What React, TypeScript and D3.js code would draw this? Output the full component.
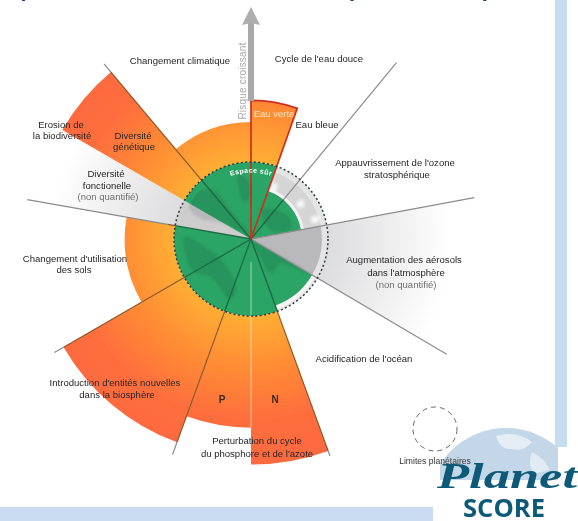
import React from 'react';
import * as d3 from 'd3';

const WIDTH = 578;
const HEIGHT = 521;
const CENTER = [251, 239];

// Sectors beyond the boundary: angles in degrees clockwise from north, value 1 = planetary boundary
const overshootNames = ['Changement climatique', 'Eau verte', 'Diversité génétique', 'Utilisation des sols', 'Entités nouvelles', 'P', 'N'];
const overshootFrom = [320, 0, 300, 240, 200, 180, 160];
const overshootTo = [360, 19.5, 320, 280, 240, 200, 180];
const overshootValue = [1.52, 1.8, 2.83, 1.64, 2.81, 2.45, 2.93];

// Sectors still inside the safe space
const safeNames = ['Climat', 'Eau verte', 'Eau bleue et ozone', 'Acidification', 'Phosphore et azote', 'Entités', 'Sols', 'Génétique'];
const safeFrom = [320, 0, 19.5, 120.5, 160, 200, 240, 300];
const safeTo = [360, 19.5, 79.5, 160, 200, 240, 280, 320];
const safeValue = [1, 1, 0.66, 0.92, 1, 1, 1, 1];

// Not quantified sectors, fading out
const unknownFrom = [280, 79.5];
const unknownTo = [300, 120.5];

// Spokes: angle, end of the dark part, end of the brown part, full length
const spokeAngle = [320, 39.5, 79.5, 120.5, 160, 200, 240, 280];
const spokeGreen = [1, 0.66, 0, 0, 1, 1, 1, 1];
const spokeBrown = [2.83, 0, 0, 0, 2.93, 2.81, 2.81, 1.1];
const spokeEnd = [2.97, 2.97, 2.95, 2.95, 3.0, 2.98, 2.95, 2.95];

// Map blobs on the globe: [angle, radius]
const darkLand = [
  [[302, 0.97], [322, 0.82], [325, 0.4], [355, 0.05], [300, 0.4], [292, 0.75]],
  [[270, 0.88], [243, 0.87], [226, 0.72], [200, 0.83], [198, 0.62], [236, 0.47], [268, 0.71]],
  [[135, 0.05], [120, 0.87], [124, 0.7], [130, 0.5], [150, 0.52], [153, 0.29]],
  [[348, 0.85], [358, 0.75], [357, 0.5], [346, 0.55]],
  [[18, 0.41], [54, 0.56], [76, 0.53], [68, 0.28]],
];
const paleLand = [
  [[21, 0.78], [26, 0.78], [28, 0.66], [22, 0.64]],
  [[52, 0.84], [58, 0.82], [57, 0.74], [52, 0.75]],
  [[71, 0.93], [76, 0.9], [75, 0.82], [70, 0.83]],
];

const labelLines = [
  ['Changement climatique', 180, 64],
  ["Cycle de l'eau douce", 319, 62],
  ['Eau bleue', 317, 128],
  ["Appauvrissement de l'ozone", 395, 166],
  ['stratosphérique', 397, 178],
  ['Augmentation des aérosols', 404, 263],
  ["dans l'atmosphère", 406, 276],
  ["Acidification de l'océan", 364, 362],
  ['Perturbation du cycle', 257, 444],
  ["du phosphore et de l'azote", 257, 457],
  ["Introduction d'entités nouvelles", 115, 386],
  ['dans la biosphère', 117, 398],
  ["Changement d'utilisation", 75, 262],
  ['des sols', 74, 273],
  ['Diversité', 106, 177],
  ['fonctionelle', 107, 189],
  ['Erosion de', 61, 128],
  ['la biodiversité', 62, 139],
  ['Diversité', 133, 139],
  ['génétique', 134, 150],
];
const greyLines = [
  ['(non quantifié)', 108, 200],
  ['(non quantifié)', 406, 288],
];
const titleScraps = [['(', 18], ['p', 349], [')', 483]];

const rad = d3.scaleLinear().domain([0, 360]).range([0, 2 * Math.PI]);
const radius = d3.scaleLinear().domain([0, 1]).range([0, 77]);
const arc = d3.arc();
const blob = d3.lineRadial()
  .angle(d => rad(d[0]))
  .radius(d => radius(d[1]))
  .curve(d3.curveCardinalClosed);

const sector = (from, to, inner, outer) =>
  arc({ startAngle: rad(from), endAngle: rad(to), innerRadius: radius(inner), outerRadius: radius(outer) });

const polar = (angle, value) => {
  const a = rad(angle);
  return [Math.sin(a) * radius(value), -Math.cos(a) * radius(value)];
};

const Spoke = ({ angle, from, to, color, width, opacity = 1 }) => {
  if (to <= from) return null;
  const [x1, y1] = polar(angle, from);
  const [x2, y2] = polar(angle, to);
  return <line x1={x1} y1={y1} x2={x2} y2={y2} stroke={color} strokeWidth={width} opacity={opacity} />;
};

export default function App() {
  const font = '"Liberation Sans", Arial, sans-serif';
  const labelPath = d3.path();
  labelPath.arc(0, 0, radius(0.86), rad(-30) - Math.PI / 2, rad(30) - Math.PI / 2);

  return (
    <svg width={WIDTH} height={HEIGHT} style={{ position: 'absolute', left: 0, top: 0, background: '#fff' }} fontFamily={font}>
      <defs>
        <filter id="soft" x="-5%" y="-5%" width="110%" height="110%">
          <feGaussianBlur stdDeviation="0.35" />
        </filter>
        <filter id="landBlur" x="-20%" y="-20%" width="140%" height="140%">
          <feGaussianBlur stdDeviation="1.6" />
        </filter>
        <radialGradient id="heat" gradientUnits="userSpaceOnUse" cx="0" cy="0" r="226">
          <stop offset="0.34" stopColor="#ffae36" />
          <stop offset="0.55" stopColor="#ff8f34" />
          <stop offset="0.8" stopColor="#fe6e3d" />
          <stop offset="1" stopColor="#fd6a40" />
        </radialGradient>
        <radialGradient id="fade" gradientUnits="userSpaceOnUse" cx="0" cy="0" r="200">
          <stop offset="0.38" stopColor="#dcdcde" />
          <stop offset="0.7" stopColor="#eeeeef" />
          <stop offset="1" stopColor="#ffffff" />
        </radialGradient>
        <clipPath id="globeClip"><circle r={radius(0.92)} /></clipPath>
        <clipPath id="logoClip"><rect x={440} y={420} width={118} height={60} /></clipPath>
        <path id="safeArc" d={labelPath.toString()} />
      </defs>

      <g filter="url(#soft)">
        {titleScraps.map(([t, x]) => (
          <text key={x} x={x} y={-4} fontSize={22} fontWeight="bold" fill="#1c3f78">{t}</text>
        ))}

        <rect x={555} y={0} width={12} height={447} fill="#c6dcf1" />
        <rect x={0} y={507} width={433} height={14} fill="#c9dcf2" />

        <g transform={`translate(${CENTER[0]},${CENTER[1]})`}>
          {unknownFrom.map((from, i) => (
            <path key={from} d={sector(from, unknownTo[i], 0, 2.9)} fill="url(#fade)" />
          ))}

          <circle r={radius(1)} fill="#e4e4e4" />
          <circle r={radius(0.92)} fill="#d5d5d6" />
          <path d={sector(79.5, 120.5, 0, 0.92)} fill="#b9b9bb" />
          <path d={sector(280, 300, 0, 1)} fill="#cdcdce" />
          <g filter="url(#landBlur)">
            {paleLand.map((d, i) => <path key={i} d={blob(d)} fill="#f6f6f6" />)}
          </g>

          <path d={sector(19.5, 79.5, 0.66, 0.7)} fill="#f4f4f4" />
          <path d={sector(120.5, 160, 0.92, 0.97)} fill="#f6f6f6" />
          {safeNames.map((name, i) => (
            <path key={name} d={sector(safeFrom[i], safeTo[i], 0, safeValue[i])} fill="#2ca565" />
          ))}
          <g clipPath="url(#globeClip)">
            <g filter="url(#landBlur)">
              {darkLand.map((d, i) => <path key={i} d={blob(d)} fill="#000" opacity={0.1} />)}
            </g>
          </g>

          {overshootNames.map((name, i) => (
            <path key={name} d={sector(overshootFrom[i], overshootTo[i], 1, overshootValue[i])} fill="url(#heat)" />
          ))}

          <Spoke angle={180} from={0.3} to={2.45} color="#ffffff" width={1} opacity={0.55} />
          {spokeAngle.map((angle, i) => (
            <g key={angle}>
              <Spoke angle={angle} from={Math.max(spokeGreen[i], spokeBrown[i], 0)} to={spokeEnd[i]} color="#8b8b8b" width={1.2} />
              <Spoke angle={angle} from={1} to={spokeBrown[i]} color="#8a5a2a" width={1.2} />
              <Spoke angle={angle} from={0} to={spokeGreen[i]} color="#1d6b45" width={1.4} />
            </g>
          ))}

          <path d={sector(0, 19.5, 0, overshootValue[1])} fill="none" stroke="#cf2d1f" strokeWidth={1.7} />
          <circle r={radius(1)} fill="none" stroke="#2f3a3a" strokeWidth={1.5} strokeDasharray="2 2.4" />

          <text fontSize={7} fontWeight="bold" fill="#fff" letterSpacing={0.4}>
            <textPath href="#safeArc" startOffset="50%" textAnchor="middle">Espace sûr</textPath>
          </text>
        </g>

        {/* risk arrow */}
        <rect x={248} y={22} width={6} height={79} fill="#a9a9a9" />
        <path d={d3.line()([[251, 7], [260, 25], [251, 23], [242, 25]]) + 'Z'} fill="#adadad" />
        <text transform="translate(246,81) rotate(-90)" textAnchor="middle" fontSize={10} fill="#a8a8a8" letterSpacing={0.2}>Risque croissant</text>

        {labelLines.map(([t, x, y], i) => (
          <text key={i} x={x} y={y} textAnchor="middle" fontSize={9.55} fill="#262626">{t}</text>
        ))}
        {greyLines.map(([t, x, y], i) => (
          <text key={i} x={x} y={y} textAnchor="middle" fontSize={9.55} fill="#6f6f6f">{t}</text>
        ))}
        <text x={274} y={117} textAnchor="middle" fontSize={9.5} fill="#ffe3c4">Eau verte</text>
        <text x={222} y={403} textAnchor="middle" fontSize={10} fontWeight="bold" fill="#3a2a20">P</text>
        <text x={275} y={403} textAnchor="middle" fontSize={10} fontWeight="bold" fill="#3a2a20">N</text>

        {/* legend */}
        <circle cx={435} cy={429} r={22} fill="none" stroke="#666" strokeWidth={1} strokeDasharray="5 4" />

        {/* logo */}
        <g clipPath="url(#logoClip)">
          <circle cx={506} cy={506} r={78} fill="#c3d7e8" />
          <path d="M496 436 q20 -6 36 6 q-8 10 -20 7 q-12 1 -16 -13Z" fill="#fff" opacity={0.55} />
          <path d="M532 452 q12 6 18 18 l-16 4 q-7 -10 -2 -22Z" fill="#fff" opacity={0.5} />
        </g>
        <text x={435} y={464} textAnchor="middle" fontSize={8.6} fill="#333">Limites planétaires</text>
        <text x={437} y={488} fontFamily='"Liberation Serif", serif' fontStyle="italic" fontWeight="bold" fontSize={35}
          fill="#0f5a78" textLength={140} lengthAdjust="spacingAndGlyphs">Planet</text>
        <text x={463} y={517} fontFamily='"Open Sans", sans-serif' fontWeight="bold" fontSize={25}
          fill="#0f5a78" textLength={82} lengthAdjust="spacingAndGlyphs">SCORE</text>
      </g>
    </svg>
  );
}
